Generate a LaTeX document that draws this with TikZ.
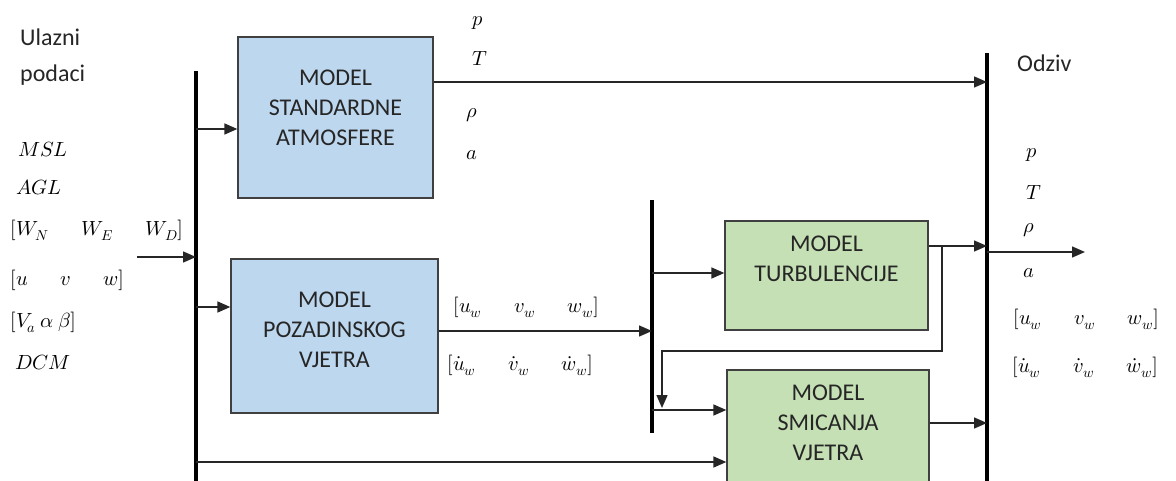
\documentclass[tikz,border=0pt]{standalone}
\usepackage{unicode-math}
\setmainfont{Carlito}
\usetikzlibrary{positioning,arrows.meta}
\definecolor{plava}{HTML}{BDD7EE}
\definecolor{zelena}{HTML}{C5E0B4}
\definecolor{rub}{HTML}{404040}
\tikzset{
	blok/.style={draw=rub, line width=1.3pt, inner sep=0pt},
	natpis/.style={align=center, text=black!85, font=\fontsize{24}{30}\selectfont},
	tekst/.style={anchor=mid west, inner sep=0pt, text=black!85, font=\fontsize{24}{30}\selectfont},
	mat/.style={anchor=mid west, inner sep=0pt, font=\fontsize{20.5}{24}\selectfont},
	veza/.style={draw=black!85, line width=1.5pt, -{Triangle[length=13pt,width=11pt]}},
	sabirnica/.style={line width=3.4pt}
}
\newcommand{\rz}{\hspace{1.6em}}
\begin{document}
\begin{tikzpicture}[x=1pt, y=-1pt]
				\useasboundingbox (0,0) rectangle (1176,481);
				%%%nodes
				%blocks
				\node[blok, fill=plava, minimum width=195pt, minimum height=161pt] (STD) at (335.5,117.5) {};
				\node[natpis] (STDt) at (335.5,108) {MODEL\\STANDARDNE\\ATMOSFERE};
				\node[blok, fill=plava, minimum width=207pt, minimum height=154pt] (POZ) at (334.5,336) {};
				\node[natpis] (POZt) at (334.5,330) {MODEL\\POZADINSKOG\\VJETRA};
				\node[blok, fill=zelena, minimum width=203pt, minimum height=109pt] (TUR) at (826.5,275.5) {};
				\node[natpis] (TURt) at (826.5,259) {MODEL\\TURBULENCIJE};
				\node[blok, fill=zelena, minimum width=202pt, minimum height=125pt] (SMI) at (828,432.5) {};
				\node[natpis] (SMIt) at (828,423) {MODEL\\SMICANJA\\VJETRA};
				%inputs
				\node[tekst] (ul1) at (20,43) {Ulazni};
				\node[tekst] (ul2) at (20,79) {podaci};
				\node[mat] (msl) at (18,154) {$MSL$};
				\node[mat] (agl) at (16,192) {$AGL$};
				\node[mat] (vjt) at (10,233) {$[W_N\rz W_E\rz W_D]$};
				\node[mat] (uvw) at (10,283) {$[u\rz v\rz w]$};
				\node[mat] (vab) at (10,325) {$[V_a\ \alpha\ \beta]$};
				\node[mat] (dcm) at (15,367) {$DCM$};
				%atmosphere
				\node[mat] (p1) at (472,23) {$p$};
				\node[mat] (T1) at (472,63) {$T$};
				\node[mat] (r1) at (466,115) {$\rho$};
				\node[mat] (a1) at (466,157) {$a$};
				%wind
				\node[mat] (w1) at (453,310) {$[u_w\rz v_w\rz w_w]$};
				\node[mat] (dw1) at (447,368) {$[\dot{u}_w\rz \dot{v}_w\rz \dot{w}_w]$};
				%outputs
				\node[tekst] (odz) at (1017,69) {Odziv};
				\node[mat] (p2) at (1026,155) {$p$};
				\node[mat] (T2) at (1026,197) {$T$};
				\node[mat] (r2) at (1023,230) {$\rho$};
				\node[mat] (a2) at (1023,275) {$a$};
				\node[mat] (w2) at (1013,322) {$[u_w\rz v_w\rz w_w]$};
				\node[mat] (dw2) at (1012,370) {$[\dot{u}_w\rz \dot{v}_w\rz \dot{w}_w]$};
				%%%links
				%left bus
				\coordinate (L0) at (196,71);
				\coordinate (L1) at (196,490);
				\coordinate (L2) at (196,129);
				\coordinate (L3) at (196,307);
				\coordinate (L4) at (196,462);
				\coordinate (ul) at (137,257);
				\draw[sabirnica] (L0) -- (L1);
				\draw[veza] (ul) -- (ul -| L0);
				\draw[veza] (L2) -- (L2 -| STD.west);
				\draw[veza] (L3) -- (L3 -| POZ.west);
				\draw[veza] (L4) -- (L4 -| SMI.west);
				%middle bus
				\coordinate (M0) at (652,200);
				\coordinate (M1) at (652,433);
				\coordinate (M2) at (652,331);
				\coordinate (M3) at (652,273);
				\coordinate (M4) at (652,410);
				\draw[sabirnica] (M0) -- (M1);
				\draw[veza] (M2 -| POZ.east) -- (M2);
				\draw[veza] (M3) -- (M3 -| TUR.west);
				\draw[veza] (M4) -- (M4 -| SMI.west);
				%right bus
				\coordinate (R0) at (987,53);
				\coordinate (R1) at (987,490);
				\coordinate (R2) at (987,82);
				\coordinate (R3) at (987,246);
				\coordinate (R4) at (987,423);
				\coordinate (R5) at (987,252);
				\coordinate (izl) at (1085,252);
				\draw[sabirnica] (R0) -- (R1);
				\draw[veza] (R2 -| STD.east) -- (R2);
				\draw[veza] (R3 -| TUR.east) -- (R3);
				\draw[veza] (R4 -| SMI.east) -- (R4);
				\draw[veza] (R5) -- (izl);
				%feedback
				\coordinate (P0) at (942,246);
				\coordinate (P1) at (662,351);
				\draw[veza] (P0) |- (P1) -- ([yshift=2pt]P1 |- M4);
\end{tikzpicture}
\end{document}
